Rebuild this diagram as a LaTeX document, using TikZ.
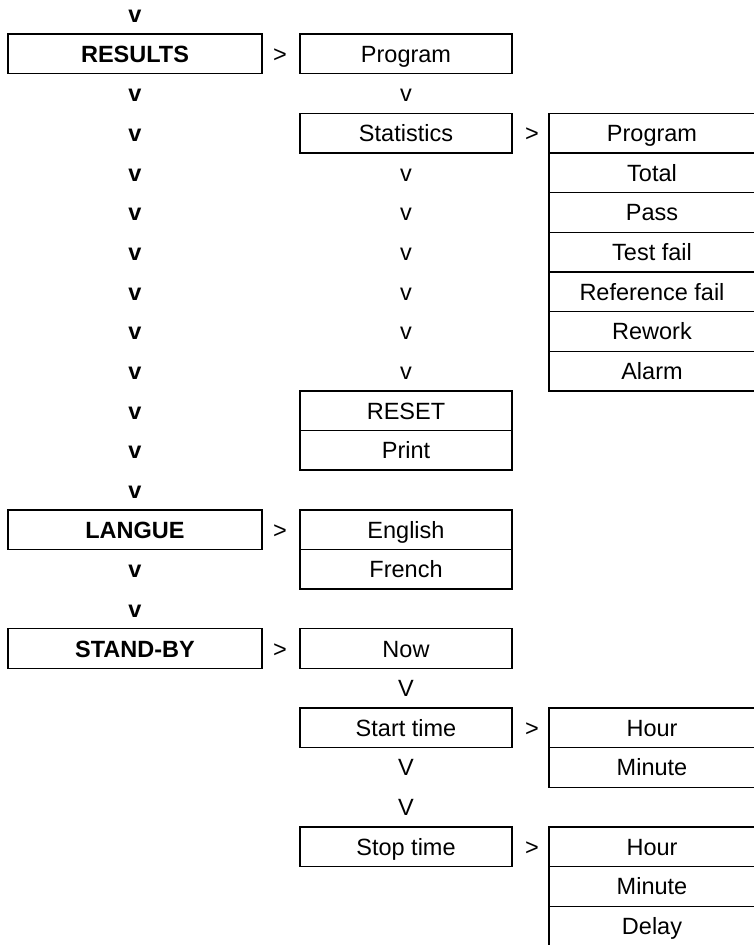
\documentclass[tikz,border=0pt]{standalone}
\usepackage{fontspec}
\setmainfont{Liberation Sans}
\newcommand\rowy[1]{14.2+39.65*#1}
\begin{document}
\begin{tikzpicture}[x=1pt,y=-1pt,
  txt/.style={font=\fontsize{23.5}{28}\selectfont, inner sep=0pt, text height=16.8pt, text depth=0pt},
  menubox/.style={txt, draw, line width=1.4pt, minimum height=39.65pt},
  lbox/.style={menubox, minimum width=254pt, font=\fontsize{23.5}{28}\selectfont\bfseries},
  mbox/.style={menubox, minimum width=212pt},
  rbox/.style={menubox, minimum width=206pt},
  bv/.style={txt, font=\fontsize{23.5}{28}\selectfont\bfseries},
  sv/.style={txt},
  gt/.style={txt}]
\useasboundingbox (0,0) rectangle (754,945);
\clip (0,0) rectangle (754,945);

% main menu column
\node[bv] (v0)  at (135,{\rowy{0}}) {v};
\node[lbox] (res) at (135,{\rowy{1}}) {RESULTS};
\foreach \i in {2,...,12} \node[bv] (vl\i) at (135,{\rowy{\i}}) {v};
\node[lbox] (langue) at (135,{\rowy{13}}) {LANGUE};
\node[bv] (vl14) at (135,{\rowy{14}}) {v};
\node[bv] (vl15) at (135,{\rowy{15}}) {v};
\node[lbox] (standby) at (135,{\rowy{16}}) {STAND-BY};

% separators towards the sub menus
\node[gt] (g1)  at (280,{\rowy{1}}) {>};
\node[gt] (g13) at (280,{\rowy{13}}) {>};
\node[gt] (g16) at (280,{\rowy{16}}) {>};
\node[gt] (g3)  at (532,{\rowy{3}}) {>};
\node[gt] (g18) at (532,{\rowy{18}}) {>};
\node[gt] (g21) at (532,{\rowy{21}}) {>};

% RESULTS sub menu
\node[mbox] (resprog) at (406,{\rowy{1}}) {Program};
\node[sv] (vm2) at (406,{\rowy{2}}) {v};
\node[mbox] (stat) at (406,{\rowy{3}}) {Statistics};
\foreach \i in {4,...,9} \node[sv] (vm\i) at (406,{\rowy{\i}}) {v};
\node[mbox] (reset) at (406,{\rowy{10}}) {RESET};
\node[mbox] (print) at (406,{\rowy{11}}) {Print};

% Statistics items
\node[rbox] (sprog)    at (652,{\rowy{3}}) {Program};
\node[rbox] (total)    at (652,{\rowy{4}}) {Total};
\node[rbox] (pass)     at (652,{\rowy{5}}) {Pass};
\node[rbox] (testfail) at (652,{\rowy{6}}) {Test fail};
\node[rbox] (reffail)  at (652,{\rowy{7}}) {Reference fail};
\node[rbox] (rework)   at (652,{\rowy{8}}) {Rework};
\node[rbox] (alarm)    at (652,{\rowy{9}}) {Alarm};

% LANGUE sub menu
\node[mbox] (english) at (406,{\rowy{13}}) {English};
\node[mbox] (french)  at (406,{\rowy{14}}) {French};

% STAND-BY sub menu
\node[mbox] (now) at (406,{\rowy{16}}) {Now};
\node[sv] (V17) at (406,{\rowy{17}}) {V};
\node[mbox] (start) at (406,{\rowy{18}}) {Start time};
\node[sv] (V19) at (406,{\rowy{19}}) {V};
\node[sv] (V20) at (406,{\rowy{20}}) {V};
\node[mbox] (stop) at (406,{\rowy{21}}) {Stop time};

\node[rbox] (shour)   at (652,{\rowy{18}}) {Hour};
\node[rbox] (sminute) at (652,{\rowy{19}}) {Minute};
\node[rbox] (phour)   at (652,{\rowy{21}}) {Hour};
\node[rbox] (pminute) at (652,{\rowy{22}}) {Minute};
\node[rbox] (delay)   at (652,{\rowy{23}}) {Delay};
\end{tikzpicture}
\end{document}
